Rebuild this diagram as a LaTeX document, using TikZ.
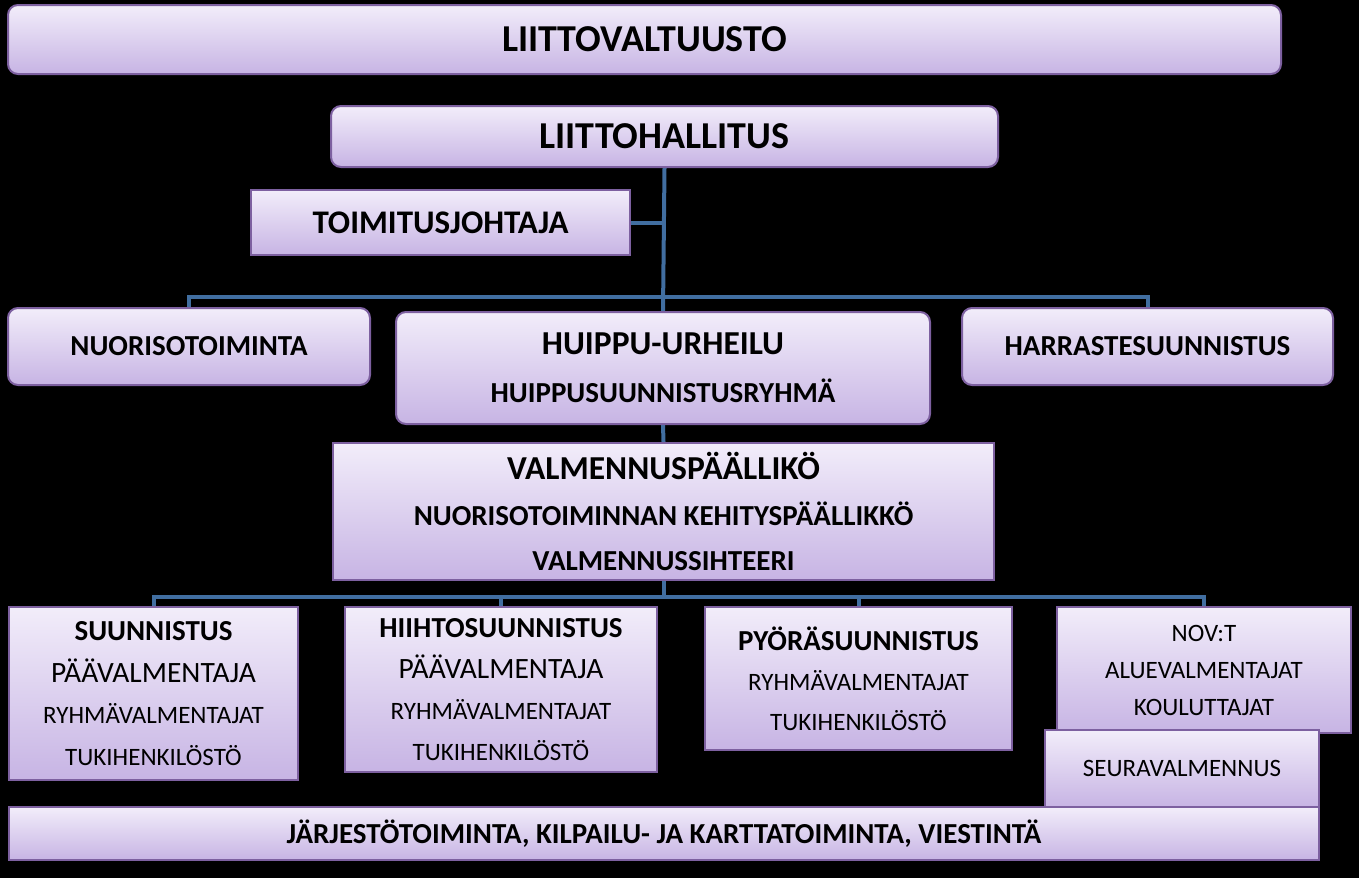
\documentclass[tikz,border=0pt]{standalone}
\usepackage{fontspec}
\setmainfont{Carlito}
\usetikzlibrary{backgrounds}
\definecolor{lavtop}{RGB}{242,237,250}
\definecolor{lavbot}{RGB}{199,180,228}
\definecolor{bord}{RGB}{125,96,160}
\definecolor{conn}{RGB}{65,110,160}
\newcommand\fs[2]{\fontsize{#1}{#2}\selectfont}
\tikzset{
  orgbox/.style={draw=bord, line width=2pt, top color=lavtop, bottom color=lavbot,
    inner sep=0pt, align=center, text=black},
  rbox/.style={orgbox, rounded corners=10pt},
  wire/.style={draw=conn, line width=4pt},
  lsk/.style={font=\fs{25}{#1}},
}
\newcommand\obox[7]{\node[#6, minimum width={#4-#2}, minimum height={#5-#3}] (#1) at ({(#2+#4)/2},{(#3+#5)/2}) {#7};}
\newcommand\bigb{\fs{29}{30}\bfseries}
\newcommand\rg{\fs{25}{30}}
\begin{document}
\begin{tikzpicture}[x=1pt,y=-1pt]
\useasboundingbox (0,0) rectangle (1359,878);
% boxes
\obox{lv}{8}{5}{1281}{74}{rbox}{\fs{38}{40}\bfseries LIITTOVALTUUSTO}
\obox{lh}{331}{106}{998}{167}{rbox}{\fs{38}{40}\bfseries LIITTOHALLITUS}
\obox{tj}{251}{190}{630}{255}{orgbox}{\fs{33}{36}\bfseries TOIMITUSJOHTAJA}
\obox{nuo}{8}{308}{370}{385}{rbox}{\bigb NUORISOTOIMINTA}
\obox{hu}{396}{312}{930}{424}{rbox,lsk=48}{\fs{33.5}{36}\bfseries HUIPPU-URHEILU\\\bigb HUIPPUSUUNNISTUSRYHMÄ}
\obox{har}{962}{308}{1333}{385}{rbox}{\bigb HARRASTESUUNNISTUS}
\obox{val}{333}{443}{994}{580}{orgbox,lsk=45.5}{\fs{33.5}{36}\bfseries VALMENNUSPÄÄLLIKÖ\\\bigb NUORISOTOIMINNAN KEHITYSPÄÄLLIKKÖ\\\bigb VALMENNUSSIHTEERI}
\obox{suu}{9}{607}{298}{780}{orgbox,lsk=41.7}{\bigb SUUNNISTUS\\\fs{29.5}{30}PÄÄVALMENTAJA\\\rg RYHMÄVALMENTAJAT\\\rg TUKIHENKILÖSTÖ}
\obox{hii}{345}{607}{657}{772}{orgbox,lsk=41}{\bigb HIIHTOSUUNNISTUS\\\fs{29.5}{30}PÄÄVALMENTAJA\\\rg RYHMÄVALMENTAJAT\\\rg TUKIHENKILÖSTÖ}
\obox{pyo}{705}{607}{1012}{750}{orgbox,lsk=40}{\bigb PYÖRÄSUUNNISTUS\\\rg RYHMÄVALMENTAJAT\\\rg TUKIHENKILÖSTÖ}
\obox{nov}{1057}{607}{1351}{733}{orgbox,lsk=37}{\rg NOV:T\\\rg ALUEVALMENTAJAT\\\rg KOULUTTAJAT}
\obox{seu}{1045}{730}{1319}{807}{orgbox}{\rg SEURAVALMENNUS}
\obox{jar}{9}{807}{1319}{860}{orgbox}{\bigb JÄRJESTÖTOIMINTA, KILPAILU- JA KARTTATOIMINTA, VIESTINTÄ}
% connectors
\coordinate (b1) at (664,297);
\coordinate (b2) at (664,597);
\begin{pgfonlayer}{background}
\fill[black] (0,0) rectangle (1359,878);
\draw[wire] (lh.south) -- (hu.north);
\draw[wire] (tj.east) -- (tj.east -| lh.south);
\draw[wire] (nuo.north) |- (har.north |- b1) -- (har.north);
\draw[wire] (hu.south) -- (val.north);
\draw[wire] (val.south) -- (val.south |- b2);
\draw[wire] (suu.north) |- (nov.north |- b2) -- (nov.north);
\draw[wire] (hii.north) -- (hii.north |- b2);
\draw[wire] (pyo.north) -- (pyo.north |- b2);
\end{pgfonlayer}
\end{tikzpicture}
\end{document}
